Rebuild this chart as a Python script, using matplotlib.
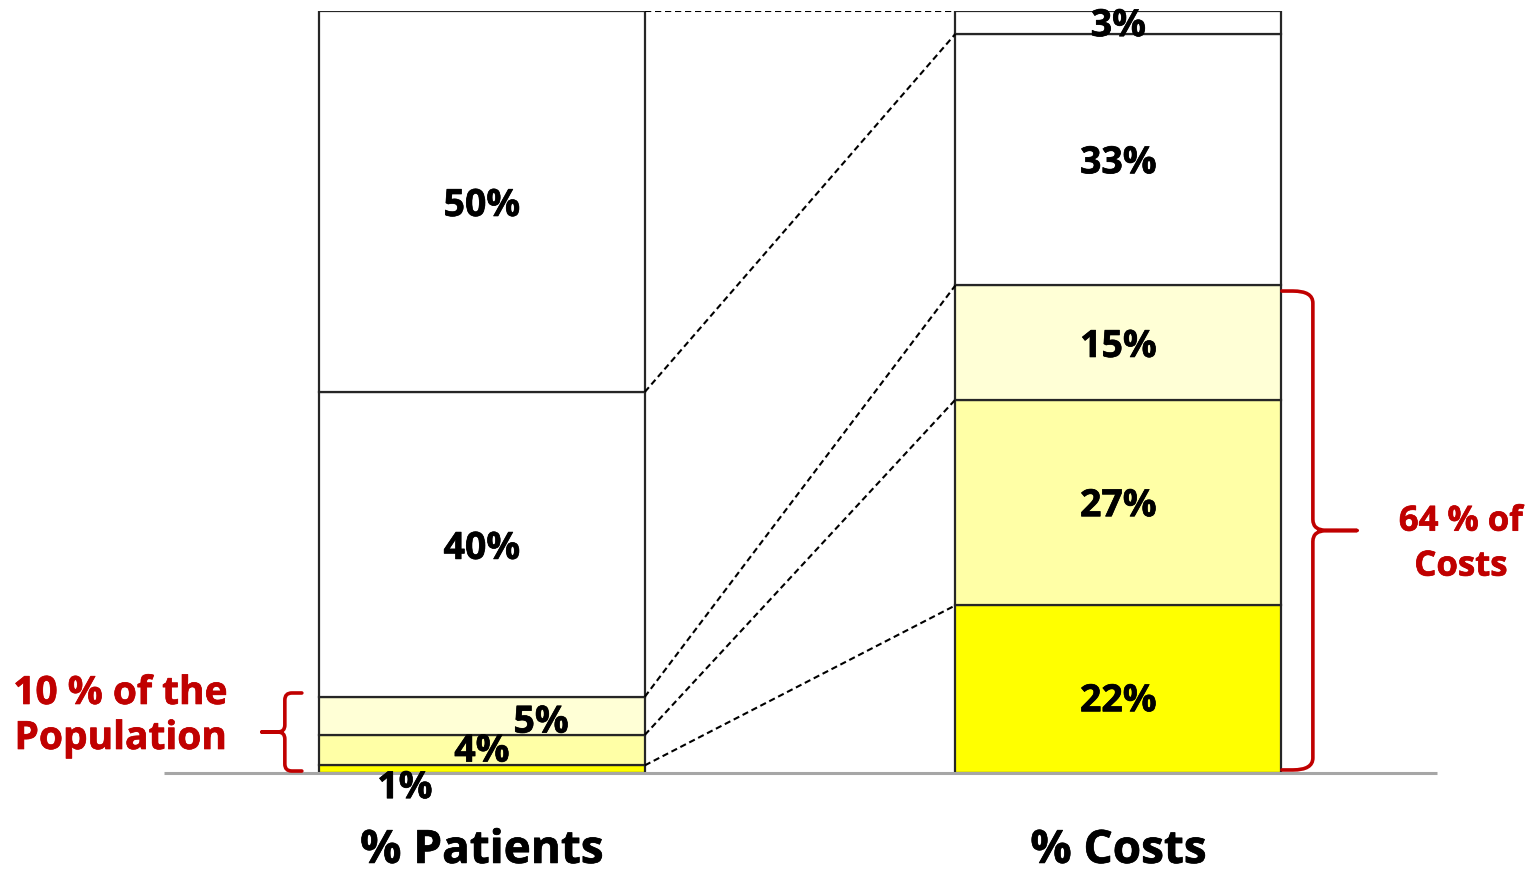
import matplotlib
matplotlib.use('Agg')
import matplotlib.pyplot as plt
import matplotlib.patheffects as pe
import numpy as np
from matplotlib.path import Path
from matplotlib.patches import PathPatch

# ---------------- data ----------------
categories = ['% Patients', '% Costs']
patients = [1, 4, 5, 40, 50]       # bottom -> top
costs = [22, 27, 15, 33, 3]        # bottom -> top
labels_patients = ['1%', '4%', '5%', '40%', '50%']
labels_costs = ['22%', '27%', '15%', '33%', '3%']
note_left = ['10 % of the', 'Population']
note_right = ['64 % of', 'Costs']

# ---------------- style ----------------
seg_colors = ['#FFFF00', '#FFFFA6', '#FFFFD6', '#FFFFFF', '#FFFFFF']
edge = '#262626'
red = '#C00000'
FONT = 'Open Sans'


def heavy(color):
    return [pe.withStroke(linewidth=0.5, foreground=color)]


fig = plt.figure(figsize=(15.34, 8.72), dpi=100)
ax = fig.add_axes([0, 99 / 872, 1, 762 / 872])
ax.set_xlim(-0.757, 1.653)
ax.set_ylim(0, 100)
ax.axis('off')

# pixel -> data unit conversion (for annotation geometry)
PX = 1 / 636.5
PY = 100 / 762

width = 0.512
xpos = [0, 1]
series = [patients, costs]

for xi, vals in zip(xpos, series):
    bottoms = np.concatenate([[0], np.cumsum(vals)[:-1]])
    ax.bar(xi, vals, width=width, bottom=bottoms, color=seg_colors,
           edgecolor=edge, linewidth=1.6, zorder=2)

# baseline
ax.plot([-0.5, 1.5], [0, 0], color='#A6A6A6', lw=2.2, zorder=3,
        solid_capstyle='butt', clip_on=False)

# dashed connectors between boundaries
cp = np.cumsum(patients)
cc = np.cumsum(costs)
for a, b in zip(cp, cc):
    ax.plot([xpos[0] + width / 2, xpos[1] - width / 2], [a, b],
            color='black', lw=1.5, linestyle=(0, (3.0, 1.8)), zorder=4)

# segment labels (x offset, baseline y)
lab_p_pos = [(-0.121, -3.3), (0.0, 1.5), (0.093, 5.3), (0.0, 28.1), (0.0, 73.1)]
lab_c_pos = [(0.0, 8.1), (0.0, 33.7), (0.0, 54.6), (0.0, 78.7), (0.0, 96.7)]
for xi, labs, poss in [(xpos[0], labels_patients, lab_p_pos),
                       (xpos[1], labels_costs, lab_c_pos)]:
    for lab, (dx, yb) in zip(labs, poss):
        ax.text(xi + dx, yb, lab, ha='center', va='baseline',
                fontsize=27, fontweight='bold', family=FONT, zorder=5,
                clip_on=False, path_effects=heavy('black'))

# category labels
for xi, cat in zip(xpos, categories):
    ax.text(xi, -11.8, cat, ha='center', va='baseline', fontsize=33,
            fontweight='bold', family=FONT, clip_on=False,
            path_effects=heavy('black'))

# red notes
ax.text(-0.568, 9.06, note_left[0], ha='center', va='baseline', fontsize=28,
        fontweight='bold', family=FONT, color=red, clip_on=False,
        path_effects=heavy(red))
ax.text(-0.568, 3.15, note_left[1], ha='center', va='baseline', fontsize=28,
        fontweight='bold', family=FONT, color=red, clip_on=False,
        path_effects=heavy(red))
ax.text(1.538, 31.8, note_right[0], ha='center', va='baseline', fontsize=25,
        fontweight='bold', family=FONT, color=red, clip_on=False,
        path_effects=heavy(red))
ax.text(1.538, 25.9, note_right[1], ha='center', va='baseline', fontsize=25,
        fontweight='bold', family=FONT, color=red, clip_on=False,
        path_effects=heavy(red))


def brace(xs, y0, y1, d, arm, tip, rx, ry, rmx, rmy):
    ym = (y0 + y1) / 2
    verts, codes = [], []
    for ye, s in [(y1, -1), (y0, 1)]:
        verts += [(xs - d * arm, ye), (xs - d * rx, ye), (xs, ye), (xs, ye + s * ry),
                  (xs, ym - s * rmy), (xs, ym), (xs + d * rmx, ym), (xs + d * tip, ym)]
        codes += [Path.MOVETO, Path.LINETO, Path.CURVE3, Path.CURVE3,
                  Path.LINETO, Path.CURVE3, Path.CURVE3, Path.LINETO]
    ax.add_patch(PathPatch(Path(verts, codes), facecolor='none', edgecolor=red,
                           lw=2.6, capstyle='round', joinstyle='round',
                           zorder=6, clip_on=False))


# left brace (around the top 10% of patients)
brace(-0.3095, 0.26, sum(patients[:3]) + 0.5, -1,
      17 * PX, 23 * PX, 7 * PX, 7 * PY, 7 * PX, 7 * PY)
# right brace (around 64% of costs)
brace(1.3056, 0.4, sum(costs[:3]) - 0.75, 1,
      31 * PX, 44 * PX, 20 * PX, 12 * PY, 14 * PX, 11 * PY)

fig.savefig('out.png', dpi=100)
